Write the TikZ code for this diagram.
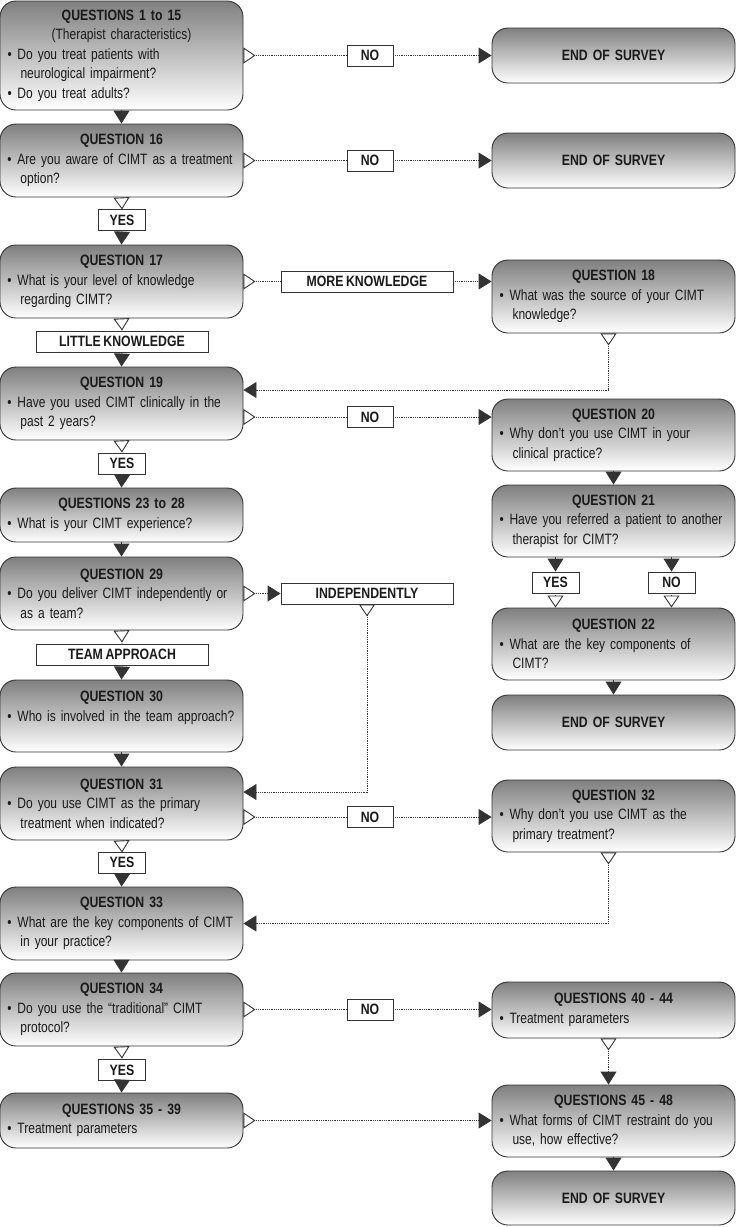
\documentclass[tikz,border=0pt]{standalone}
\usepackage{fontspec}
\setmainfont{Liberation Sans}[UprightFeatures={FakeStretch=0.80},BoldFeatures={FakeStretch=0.82},WordSpace=0.75]
\usetikzlibrary{arrows.meta}

\newcommand{\qhead}[1]{\noindent\makebox[\hsize]{\bfseries #1}\par}
\newcommand{\qsub}[1]{\noindent\makebox[\hsize]{#1}\par}
\newcommand{\qitem}[1]{\noindent\mbox{\makebox[10pt][l]{\textbullet}#1}\par}
\newcommand{\qmore}[1]{\noindent\mbox{\hspace*{13pt}#1}\par}

\begin{document}
\begin{tikzpicture}[x=1pt,y=-1pt,font=\fontsize{15}{19.5}\selectfont,
  qbox/.style={draw=ink,line width=0.9pt,rounded corners=16pt,top color=black!50,middle color=black!7,bottom color=white,minimum width=243pt,text width=228pt,inner xsep=7.5pt,inner ysep=0pt,align=left,text=txt},
  endbox/.style={qbox,align=center,font=\fontsize{15}{19.5}\selectfont\bfseries},
  lbl/.style={draw=ink,line width=0.9pt,fill=white,inner sep=0pt,minimum height=21pt,text=txt,font=\fontsize{15}{18}\selectfont\bfseries},
  dotline/.style={draw=ink,line width=0.9pt,dash pattern=on 0.9pt off 0.9pt},
  arr/.style={draw=ink,line width=0.9pt},
  qout/.tip={Triangle[open,reversed,length=12pt,width=16pt]},
  qend/.tip={Triangle[open,length=12pt,width=16pt]},
  qin/.tip={Triangle[length=13pt,width=16pt]}]
\definecolor{ink}{HTML}{333333}\definecolor{txt}{HTML}{1A1A1A}
\useasboundingbox (0,0) rectangle (736,1227);
\node[qbox,minimum height=109pt] (q1) at (121.5,55.5) {\qhead{QUESTIONS 1 to 15}\qsub{(Therapist characteristics)}\qitem{Do you treat patients with}\qmore{neurological impairment?}\qitem{Do you treat adults?}};
\node[qbox,minimum height=73pt] (q16) at (121.5,160.5) {\qhead{QUESTION 16}\qitem{Are you aware of CIMT as a treatment}\qmore{option?}};
\node[qbox,minimum height=73pt] (q17) at (121.5,281.5) {\qhead{QUESTION 17}\qitem{What is your level of knowledge}\qmore{regarding CIMT?}};
\node[qbox,minimum height=73pt] (q19) at (121.5,403.5) {\qhead{QUESTION 19}\qitem{Have you used CIMT clinically in the}\qmore{past 2 years?}};
\node[qbox,minimum height=54pt] (q23) at (121.5,515) {\qhead{QUESTIONS 23 to 28}\qitem{What is your CIMT experience?}};
\node[qbox,minimum height=73pt] (q29) at (121.5,593.5) {\qhead{QUESTION 29}\qitem{Do you deliver CIMT independently or}\qmore{as a team?}};
\node[qbox,minimum height=72pt] (q30) at (121.5,716) {\qhead{QUESTION 30}\qitem{Who is involved in the team approach?}\qmore{}};
\node[qbox,minimum height=73pt] (q31) at (121.5,803.5) {\qhead{QUESTION 31}\qitem{Do you use CIMT as the primary}\qmore{treatment when indicated?}};
\node[qbox,minimum height=73pt] (q33) at (121.5,923.5) {\qhead{QUESTION 33}\qitem{What are the key components of CIMT}\qmore{in your practice?}};
\node[qbox,minimum height=73pt] (q34) at (121.5,1009.5) {\qhead{QUESTION 34}\qitem{Do you use the ``traditional'' CIMT}\qmore{protocol?}};
\node[qbox,minimum height=55pt] (q35) at (121.5,1120.5) {\qhead{QUESTIONS 35 - 39}\qitem{Treatment parameters}};
\node[endbox,minimum height=55pt] (end1) at (613.5,55.5) {END OF SURVEY};
\node[endbox,minimum height=55pt] (end2) at (613.5,160.5) {END OF SURVEY};
\node[qbox,minimum height=73pt] (q18) at (613.5,296.5) {\qhead{QUESTION 18}\qitem{What was the source of your CIMT}\qmore{knowledge?}};
\node[qbox,minimum height=72pt] (q20) at (613.5,435) {\qhead{QUESTION 20}\qitem{Why don't you use CIMT in your}\qmore{clinical practice?}};
\node[qbox,minimum height=72pt] (q21) at (613.5,521) {\qhead{QUESTION 21}\qitem{Have you referred a patient to another}\qmore{therapist for CIMT?}};
\node[qbox,minimum height=72pt] (q22) at (613.5,644) {\qhead{QUESTION 22}\qitem{What are the key components of}\qmore{CIMT?}};
\node[endbox,minimum height=55pt] (end3) at (613.5,722.5) {END OF SURVEY};
\node[qbox,minimum height=72pt] (q32) at (613.5,816) {\qhead{QUESTION 32}\qitem{Why don't you use CIMT as the}\qmore{primary treatment?}};
\node[qbox,minimum height=56pt] (q40) at (613.5,1010) {\qhead{QUESTIONS 40 - 44}\qitem{Treatment parameters}};
\node[qbox,minimum height=72pt] (q45) at (613.5,1121) {\qhead{QUESTIONS 45 - 48}\qitem{What forms of CIMT restraint do you}\qmore{use, how effective?}};
\node[endbox,minimum height=54pt] (end4) at (613.5,1198) {END OF SURVEY};
\node[lbl,minimum width=46pt] (no1) at (370,55.5) {NO};
\node[lbl,minimum width=46pt] (no2) at (370,160.5) {NO};
\node[lbl,minimum width=47pt] (yes1) at (122,220) {YES};
\node[lbl,minimum width=172pt] (mk) at (367,281.5) {MORE KNOWLEDGE};
\node[lbl,minimum width=172pt] (lk) at (122,341.5) {LITTLE KNOWLEDGE};
\node[lbl,minimum width=46pt] (no3) at (370,417) {NO};
\node[lbl,minimum width=47pt] (yes2) at (122,463.5) {YES};
\node[lbl,minimum width=172pt] (indep) at (367,593.5) {INDEPENDENTLY};
\node[lbl,minimum width=172pt] (team) at (122,654.5) {TEAM APPROACH};
\node[lbl,minimum width=47pt] (yes5) at (555.5,582.5) {YES};
\node[lbl,minimum width=47pt] (no6) at (671.5,582.5) {NO};
\node[lbl,minimum width=46pt] (no4) at (370,817) {NO};
\node[lbl,minimum width=47pt] (yes3) at (122,862.5) {YES};
\node[lbl,minimum width=46pt] (no5) at (370,1009.5) {NO};
\node[lbl,minimum width=47pt] (yes4) at (122,1070) {YES};
\draw[dotline,{qout}-] (q1.east) -- (no1.west);
\draw[dotline,-{qin}] (no1.east) -- (end1.west);
\draw[arr,-{qin}] (q1.south) -- (q16.north);
\draw[dotline,{qout}-] (q16.east) -- (no2.west);
\draw[dotline,-{qin}] (no2.east) -- (end2.west);
\draw[dotline,{qout}-] (q16.south) -- (yes1.north);
\draw[arr,-{qin}] (yes1.south) -- (q17.north);
\draw[dotline,{qout}-] (q17.east) -- (mk.west);
\draw[dotline,-{qin}] (mk.east) -- (mk.east -| q18.west);
\draw[dotline,{qout}-] (q17.south) -- (lk.north);
\draw[arr,-{qin}] (lk.south) -- (q19.north);
\draw[dotline,{qout}-{qin}] ([xshift=-5pt]q18.south) |- ([yshift=13.5pt]q19.east);
\draw[dotline,{qout}-] ([yshift=-13.5pt]q19.east) -- (no3.west);
\draw[dotline,-{qin}] (no3.east) -- (no3.east -| q20.west);
\draw[dotline,{qout}-] (q19.south) -- (yes2.north);
\draw[arr,-{qin}] (yes2.south) -- (q23.north);
\draw[arr,-{qin}] (q23.south) -- (q29.north);
\draw[dotline,{qout}-{qin}] (q29.east) -- (indep.west);
\draw[dotline,{qout}-] (q29.south) -- (team.north);
\draw[arr,-{qin}] (team.south) -- (q30.north);
\draw[arr,-{qin}] (q30.south) -- (q31.north);
\draw[dotline,{qout}-{qin}] (indep.south) |- ([yshift=11.5pt]q31.east);
\draw[dotline,{qout}-] ([yshift=-13.5pt]q31.east) -- (no4.west);
\draw[dotline,-{qin}] (no4.east) -- (no4.east -| q32.west);
\draw[dotline,{qout}-] (q31.south) -- (yes3.north);
\draw[arr,-{qin}] (yes3.south) -- (q33.north);
\draw[dotline,{qout}-{qin}] ([xshift=-5pt]q32.south) |- (q33.east);
\draw[arr,-{qin}] (q33.south) -- (q34.north);
\draw[dotline,{qout}-] (q34.east) -- (no5.west);
\draw[dotline,-{qin}] (no5.east) -- (no5.east -| q40.west);
\draw[dotline,{qout}-] (q34.south) -- (yes4.north);
\draw[arr,-{qin}] (yes4.south) -- (q35.north);
\draw[dotline,{qout}-{qin}] (q35.east) -- (q35.east -| q45.west);
\draw[dotline,{qout}-{qin}] ([xshift=-5pt]q40.south) -- ([xshift=-5pt]q45.north);
\draw[arr,-{qin}] (q20.south) -- (q21.north);
\draw[arr,-{qin}] (q21.south -| yes5) -- (yes5.north);
\draw[arr,-{qin}] (q21.south -| no6) -- (no6.north);
\draw[dotline,-{qend}] (yes5.south) -- (yes5.south |- q22.north);
\draw[dotline,-{qend}] (no6.south) -- (no6.south |- q22.north);
\draw[arr,-{qin}] (q22.south) -- (end3.north);
\draw[arr,-{qin}] (q45.south) -- (end4.north);
\end{tikzpicture}
\end{document}
